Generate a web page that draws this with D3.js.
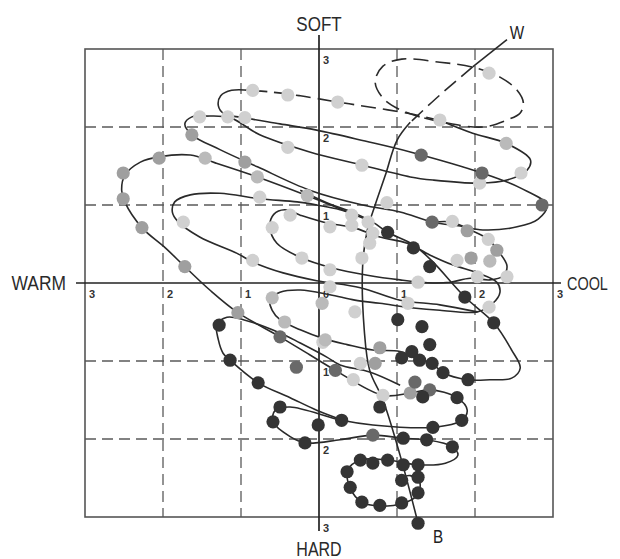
<!DOCTYPE html>
<html><head><meta charset="utf-8">
<script src="https://cdn.jsdelivr.net/npm/d3@7/dist/d3.min.js"></script>
<style>body{margin:0;background:#fff}svg{display:block}</style>
</head><body><svg id="c" width="620" height="559"></svg>
<script>
// ---- data (chart units, -3..3 on both axes) ----
const ticks = [-3,-2,-1,0,1,2,3];
const axisNames = {top:"SOFT", bottom:"HARD", left:"WARM", right:"COOL"};
const endNames = {start:"W", end:"B"};

// W–B axis of the spiral
const wbSolidTop = [[2.41,3.12],[1.97,2.77]];
const wbDashed = [[1.97,2.77],[1.55,2.41],[1.17,2.06]];
const wbSolid = [[1.17,2.06],[1.00,1.83],[0.85,1.38],[0.72,1.00],[0.62,0.68],[0.56,0.23],[0.58,-0.60],[0.65,-1.12],[0.82,-1.50],[1.04,-2.21],[1.27,-3.08]];

// spiral curve pieces
const spiralTopDashed = [[1.29,2.13],[1.04,2.22],[0.82,2.37],[0.72,2.58],[0.82,2.78],[1.06,2.87],[1.55,2.83],[1.96,2.77],[2.32,2.64],[2.54,2.47],[2.62,2.31],[2.58,2.18],[2.41,2.09],[2.10,2.00],[1.59,2.06],[1.29,2.13]];
const spiralBackDashed = [[1.56,2.08],[1.17,2.17],[0.56,2.27],[0.24,2.32],[-0.24,2.40],[-0.63,2.45],[-0.88,2.47]];
const spiralUpper = [[-0.88,2.47],[-1.12,2.47],[-1.26,2.40],[-1.29,2.27],[-1.22,2.17],[-0.97,2.12],[-0.50,2.04],[-0.03,1.96],[0.59,1.82],[1.17,1.68],[2.09,1.41],[2.58,1.22],[2.92,1.00],[2.81,0.82],[2.54,0.72],[2.10,0.68],[1.81,0.73],[1.46,0.78],[1.04,0.91],[0.56,1.00],[-0.12,1.19],[-0.79,1.49],[-1.27,1.71],[-1.63,1.90],[-1.72,2.04],[-1.63,2.13],[-1.46,2.14],[-1.14,2.12],[-0.76,1.90],[-0.12,1.68],[0.56,1.51],[1.17,1.36],[1.46,1.32],[2.06,1.28],[2.41,1.32],[2.67,1.45],[2.71,1.58],[2.40,1.79],[1.97,1.92],[1.56,2.08]];
const spiralBig = [[0.40,0.90],[-0.15,1.12],[-0.79,1.36],[-1.33,1.54],[-1.65,1.64],[-2.04,1.62],[-2.29,1.55],[-2.49,1.38],[-2.53,1.19],[-2.49,1.04],[-2.27,0.71],[-1.97,0.45],[-1.72,0.21],[-1.40,-0.09],[-1.04,-0.38],[-0.50,-0.69],[-0.12,-0.92],[0.21,-1.12],[0.82,-1.44],[1.17,-1.41],[1.42,-1.37],[1.77,-1.47],[1.90,-1.63],[1.83,-1.76],[1.46,-1.85],[0.69,-1.82],[0.29,-1.76],[-0.37,-1.59],[-0.56,-1.63],[-0.59,-1.78],[-0.37,-1.97],[-0.18,-2.05],[0.27,-2.01],[0.69,-1.95],[1.08,-1.99],[1.38,-2.01],[1.71,-2.10],[1.78,-2.21],[1.62,-2.31],[1.27,-2.33],[0.88,-2.27],[0.53,-2.27],[0.37,-2.40],[0.40,-2.63],[0.55,-2.81],[0.78,-2.86],[1.06,-2.83],[1.26,-2.72],[1.29,-2.55],[1.17,-2.47],[1.04,-2.50]];
const spiralMiddle = [[1.46,0.78],[1.71,0.78],[1.94,0.68],[2.17,0.56],[2.29,0.42],[2.41,0.22],[2.36,0.09],[2.19,0.04],[1.94,0.06],[1.68,0.01],[1.46,0],[1.04,0.04],[0.62,0.10],[0.18,0.19],[-0.24,0.33],[-0.54,0.51],[-0.63,0.72],[-0.58,0.88],[-0.44,0.94],[-0.24,0.87],[0.10,0.77],[0.44,0.71],[0.78,0.59],[1.13,0.51],[1.42,0.36],[1.72,0.23],[2.03,0.13],[2.28,0.01],[2.32,-0.12],[2.23,-0.26],[2.03,-0.37],[1.55,-0.35],[1.21,-0.32],[0.78,-0.26],[0.46,-0.22],[0.14,-0.15],[-0.24,-0.09],[-0.50,-0.12],[-0.63,-0.22],[-0.60,-0.35],[-0.50,-0.47],[-0.24,-0.60],[0.05,-0.71],[0.36,-0.79],[0.69,-0.86],[1.04,-0.88],[1.29,-0.99],[1.45,-1.03],[1.59,-1.15],[1.91,-1.24],[2.19,-1.24],[2.47,-1.22],[2.58,-1.09],[2.47,-0.86],[2.24,-0.51],[1.87,-0.18],[1.46,0.27],[1.21,0.49],[0.88,0.65],[0.69,0.78],[0.44,0.90],[0.10,1.03],[-0.24,1.19]];
const spiralLeftLoop = [[0.69,0.78],[0.27,0.94],[-0.03,1.00],[-0.28,1.04],[-0.76,1.08],[-1.27,1.15],[-1.65,1.13],[-1.85,1.04],[-1.88,0.91],[-1.81,0.79],[-1.53,0.59],[-1.05,0.38],[-0.85,0.27],[-0.46,0.13],[-0.03,0.03],[0.53,-0.06],[1.04,-0.22],[1.55,-0.28],[2.03,-0.37]];
const spiralLowLeft = [[1.04,-1.31],[0.65,-1.14],[0.27,-1.05],[0.10,-0.95],[-0.24,-0.77],[-0.50,-0.64],[-0.97,-0.47],[-1.18,-0.44],[-1.31,-0.54],[-1.29,-0.73],[-1.23,-0.90],[-1.14,-0.99],[-0.78,-1.28],[-0.37,-1.47],[-0.03,-1.63],[0.31,-1.76]];

// dots by tone
const dotsPalest = [[2.18,2.69],[1.55,2.09],[2.06,1.28],[2.59,1.41],[-0.85,2.47],[-0.40,2.41],[0.24,2.32],[-0.95,2.12],[-1.17,2.13],[-1.53,2.13],[-0.40,1.74],[0.55,1.51],[-0.76,1.10],[0.87,1.03],[0.42,0.87],[-1.74,0.78],[-0.37,0.87],[-0.60,0.71],[0.14,0.72],[0.42,0.74],[0.63,0.78],[0.69,0.64],[0.65,0.51],[0.55,0.32],[-0.22,0.32],[-0.85,0.29],[0.14,0.17],[0.14,-0.05],[0.46,-0.37],[1.71,0.79],[2.17,0.56],[1.77,0.29],[2.41,0.08],[2.03,0.08],[1.27,0.01],[1.14,-0.26],[2.18,-0.31],[0.53,-1.03],[0.44,-1.24],[0.82,-1.44],[0.05,-0.76]];
const dotsPale = [[2.40,1.79],[-1.46,1.60],[-0.79,1.36],[-0.15,1.12],[-0.60,-0.19],[0.04,-0.26],[-0.44,-0.50],[0.08,-0.73],[2.19,0.28]];
const dotsMid = [[-1.63,1.90],[-2.05,1.60],[-2.51,1.41],[-2.51,1.08],[-0.95,1.55],[-2.27,0.71],[-1.72,0.21],[0.78,-0.83],[-1.04,-0.38],[1.90,0.67],[2.28,0.42],[1.95,0.32],[0.72,-1.03],[1.17,-1.41]];
const dotsDark = [[1.31,1.64],[2.09,1.41],[2.86,1.00],[-0.50,-0.69],[1.45,0.78],[-0.29,-1.08],[0.21,-1.12],[1.23,-1.27],[1.42,-1.37],[0.69,-1.95]];
const dotsBlack = [[0.88,0.65],[1.01,-0.47],[-1.28,-0.54],[1.21,0.45],[1.42,0.21],[1.87,-0.18],[2.24,-0.51],[1.32,-0.56],[1.42,-0.79],[-1.14,-0.99],[-0.78,-1.28],[-0.50,-1.59],[-0.59,-1.78],[-0.01,-1.82],[-0.18,-2.05],[0.29,-1.76],[0.36,-2.42],[0.40,-2.62],[0.78,-1.59],[1.06,-0.96],[1.19,-0.88],[1.29,-0.99],[1.45,-1.03],[1.59,-1.15],[1.91,-1.24],[1.33,-1.46],[1.77,-1.47],[1.83,-1.76],[1.46,-1.85],[1.08,-1.99],[1.38,-2.01],[1.71,-2.10],[0.53,-2.27],[0.69,-2.31],[0.88,-2.27],[1.08,-2.33],[1.27,-2.33],[1.06,-2.53],[1.27,-2.49],[1.27,-2.69],[0.55,-2.81],[0.78,-2.85],[1.06,-2.82],[1.27,-3.08]];

// ---- drawing ----
const svg = d3.select("#c");
const x = d3.scaleLinear().domain([-3,3]).range([85,553]);
const y = d3.scaleLinear().domain([-3,3]).range([517,49]);
const font = "'Liberation Sans', Arial, sans-serif";

// dashed grid
const g = svg.append("g");
ticks.filter(t => t !== 0 && Math.abs(t) !== 3).forEach(t => {
  g.append("line").attr("x1", x(t)).attr("x2", x(t)).attr("y1", y(3)).attr("y2", y(-3))
    .attr("stroke", "#5a5a5a").attr("stroke-width", 1.3).attr("stroke-dasharray", "11,6");
  g.append("line").attr("y1", y(t)).attr("y2", y(t)).attr("x1", x(-3)).attr("x2", x(3))
    .attr("stroke", "#5a5a5a").attr("stroke-width", 1.3).attr("stroke-dasharray", "11,6");
});
// frame
svg.append("rect").attr("x", x(-3)).attr("y", y(3)).attr("width", x(3)-x(-3)).attr("height", y(-3)-y(3))
  .attr("fill", "none").attr("stroke", "#555").attr("stroke-width", 1.6);
// main axes
svg.append("line").attr("x1", x(0)).attr("x2", x(0)).attr("y1", y(3)-14).attr("y2", y(-3)+14)
  .attr("stroke", "#222").attr("stroke-width", 1.7);
svg.append("line").attr("y1", y(0)).attr("y2", y(0)).attr("x1", x(-3)-9).attr("x2", x(3)+8)
  .attr("stroke", "#222").attr("stroke-width", 1.7);

// tick labels
const tl = svg.append("g").attr("font-family", font).attr("font-size", 11).attr("font-weight", "bold").attr("fill", "#333");
ticks.forEach(t => {
  tl.append("text").attr("x", x(t)+4).attr("y", y(0)+15).text(Math.abs(t));
  if (t !== 0) tl.append("text").attr("x", x(0)+4).attr("y", y(t)+15).text(Math.abs(t));
});

// axis names, drawn with a horizontal squeeze for the condensed face
function label(parent, px, py, anchor, txt, sx, size) {
  parent.append("g").attr("transform", `translate(${px},${py}) scale(${sx},1)`)
    .append("text").attr("text-anchor", anchor).attr("font-size", size).text(txt);
}
const an = svg.append("g").attr("font-family", font).attr("fill", "#2a2a2a");
label(an, x(0), 31, "middle", axisNames.top, 0.85, 20);
label(an, x(0), 556, "middle", axisNames.bottom, 0.8, 20);
label(an, x(-3)-19, y(0)+7, "end", axisNames.left, 0.87, 20);
label(an, x(3)+14, y(0)+7, "start", axisNames.right, 0.76, 19);

// curves
const line = d3.line().x(d => x(d[0])).y(d => y(d[1])).curve(d3.curveCatmullRom.alpha(0.5));
const cg = svg.append("g").attr("fill", "none").attr("stroke", "#2a2a2a").attr("stroke-width", 1.6);
[spiralUpper, spiralBig, spiralMiddle, spiralLeftLoop, spiralLowLeft].forEach(s => cg.append("path").attr("d", line(s)));
[spiralTopDashed, spiralBackDashed].forEach(s => cg.append("path").attr("d", line(s)).attr("stroke-dasharray", "15,7"));
// W-B axis
cg.append("path").attr("d", line(wbSolidTop));
cg.append("path").attr("d", line(wbDashed)).attr("stroke-dasharray", "15,7");
cg.append("path").attr("d", line(wbSolid));

// dots
const tones = [[dotsPalest, "#d0d0d0"], [dotsPale, "#bababa"], [dotsMid, "#9f9f9f"], [dotsDark, "#696969"], [dotsBlack, "#343434"]];
const dg = svg.append("g");
tones.forEach(([arr, col]) => {
  dg.selectAll(null).data(arr).enter().append("circle")
    .attr("cx", d => x(d[0])).attr("cy", d => y(d[1])).attr("r", 6.6).attr("fill", col);
});

// end labels
const el = svg.append("g").attr("font-family", font).attr("fill", "#222");
label(el, x(wbSolidTop[0][0])+10, y(wbSolidTop[0][1])-1, "middle", endNames.start, 0.85, 18);
const last = wbSolid[wbSolid.length-1];
label(el, x(last[0])+20, y(last[1])+20, "middle", endNames.end, 0.85, 18);
</script></body></html>
